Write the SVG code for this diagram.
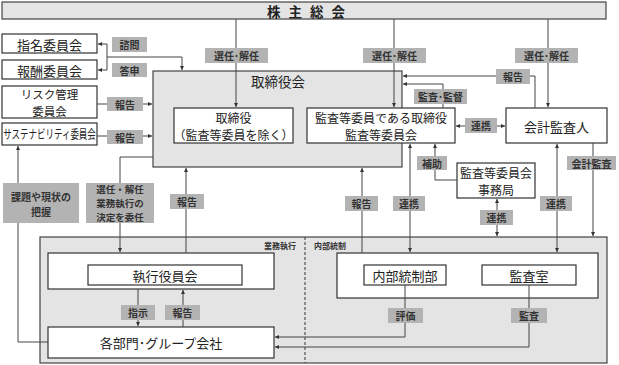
<svg xmlns="http://www.w3.org/2000/svg" width="619" height="365" viewBox="0 0 619 365">
<defs>
<style>
text{font-family:"Noto Sans CJK JP","Noto Sans",sans-serif;fill:#222;text-anchor:middle;dominant-baseline:central}
.box{fill:#fff;stroke:#333;stroke-width:1.2}
.area{fill:#e4e4e4;stroke:#444;stroke-width:1.2}
.t{font-size:13px}
.t2{font-size:12px}
.lb{fill:#b3b3b3}
.lt{font-size:10px;font-weight:bold;fill:#333}
.c{fill:none;stroke:#444;stroke-width:1}
.s{font-size:8px;font-weight:bold;fill:#333}
</style>
<marker id="a" markerWidth="5" markerHeight="5" refX="4" refY="2" orient="auto-start-reverse" markerUnits="userSpaceOnUse"><path d="M0,0 L4,2 L0,4z" fill="#333"/></marker>
</defs>
<rect width="619" height="365" fill="#fff"/>

<g id="shareholders">
<rect x="2" y="2" width="604" height="17" class="area"/>
<text x="310" y="11" style="font-size:13.5px;font-weight:bold" letter-spacing="8">株主総会</text>
</g>

<g id="board">
<rect x="153" y="71" width="249" height="96" class="area"/>
<text x="278" y="81" style="font-size:13.5px">取締役会</text>
</g>

<g id="exec-area">
<rect x="40" y="237" width="567" height="126" class="area"/>
<line x1="305" y1="237" x2="305" y2="363" stroke="#333" stroke-dasharray="3,2"/>
<text x="280" y="245" class="s">業務執行</text>
<text x="330" y="245" class="s">内部統制</text>
</g>

<g id="nomination"><rect x="2" y="34" width="95" height="19" class="box"/><text x="49.5" y="44" class="t">指名委員会</text></g>
<g id="remuneration"><rect x="2" y="60" width="95" height="19" class="box"/><text x="49.5" y="70" class="t">報酬委員会</text></g>
<g id="risk"><rect x="2" y="86" width="95" height="32" class="box"/><text style="font-size:11.5px"><tspan x="49.5" y="93.5">リスク管理</tspan><tspan x="49.5" y="110.5">委員会</tspan></text></g>
<g id="sustainability"><rect x="2" y="123" width="95" height="22" class="box"/><text transform="translate(49.5,134) scale(0.68,1)" x="0" y="0" style="font-size:12.5px">サステナビリティ委員会</text></g>

<g id="directors"><rect x="174" y="108" width="119" height="35" class="box"/><text class="t2"><tspan x="233.5" y="116.6">取締役</tspan><tspan x="233.5" y="134.4">（監査等委員を除く）</tspan></text></g>
<g id="audit-directors"><rect x="307" y="108" width="148" height="35" class="box"/><text class="t2"><tspan x="381" y="116.6">監査等委員である取締役</tspan><tspan x="381" y="134.4">監査等委員会</tspan></text></g>
<g id="accounting-auditor"><rect x="506" y="108" width="101" height="35" class="box"/><text x="556.5" y="126" class="t">会計監査人</text></g>
<g id="audit-office"><rect x="457" y="163" width="78" height="35" class="box"/><text class="t2"><tspan x="496" y="171.6">監査等委員会</tspan><tspan x="496" y="189.4">事務局</tspan></text></g>

<g id="exec-outer"><rect x="48" y="253" width="226" height="36" class="box"/></g>
<g id="exec-committee"><rect x="88" y="265" width="154" height="20" class="box"/><text x="165" y="275" class="t">執行役員会</text></g>
<g id="departments"><rect x="48" y="327" width="226" height="31" class="box"/><text x="161" y="342" class="t">各部門･グループ会社</text></g>
<g id="ic-outer"><rect x="337" y="253" width="261" height="45" class="box"/></g>
<g id="internal-control"><rect x="364" y="265" width="82" height="20" class="box"/><text x="405" y="275" class="t">内部統制部</text></g>
<g id="audit-room"><rect x="482" y="265" width="94" height="20" class="box"/><text x="529" y="275" class="t">監査室</text></g>

<g id="connectors">
<path class="c" d="M236,19 V107" marker-end="url(#a)"/>
<path class="c" d="M394,19 V107" marker-end="url(#a)"/>
<path class="c" d="M548,19 V107" marker-end="url(#a)"/>
<path class="c" d="M107,44 V70"/>
<path class="c" d="M107,44 H98" marker-end="url(#a)"/>
<path class="c" d="M107,70 H98" marker-end="url(#a)"/>
<path class="c" d="M107,57 H182 V70" marker-end="url(#a)"/>
<path class="c" d="M97,104 H152" marker-end="url(#a)"/>
<path class="c" d="M97,136 H152" marker-end="url(#a)"/>
<path class="c" d="M535,108 V76 H403" marker-end="url(#a)"/>
<path class="c" d="M443,108 V84 H403" marker-end="url(#a)"/>
<path class="c" d="M456,126 H505" marker-start="url(#a)" marker-end="url(#a)"/>
<path class="c" d="M457,180 H435 V144" marker-end="url(#a)"/>
<path class="c" d="M497,199 V236" marker-start="url(#a)" marker-end="url(#a)"/>
<path class="c" d="M593,143 V236" marker-end="url(#a)"/>
<path class="c" d="M557,144 V252" marker-start="url(#a)" marker-end="url(#a)"/>
<path class="c" d="M410,144 V252" marker-start="url(#a)" marker-end="url(#a)"/>
<path class="c" d="M362,253 V168" marker-end="url(#a)"/>
<path class="c" d="M186,253 V168" marker-end="url(#a)"/>
<path class="c" d="M153,157 H120 V252" marker-end="url(#a)"/>
<path class="c" d="M48,342 H18 V146" marker-end="url(#a)"/>
<path class="c" d="M138,289 V326" marker-end="url(#a)"/>
<path class="c" d="M183,327 V290" marker-end="url(#a)"/>
<path class="c" d="M405,285 V337 H275" marker-end="url(#a)"/>
<path class="c" d="M529,285 V347 H275" marker-end="url(#a)"/>
</g>

<g id="labels">
<rect x="205" y="48" width="63" height="15" class="lb"/><text x="236.5" y="55.5" class="lt">選任･解任</text>
<rect x="363" y="48" width="63" height="15" class="lb"/><text x="394.5" y="55.5" class="lt">選任･解任</text>
<rect x="515" y="48" width="63" height="15" class="lb"/><text x="546.5" y="55.5" class="lt">選任･解任</text>
<rect x="112" y="37" width="35" height="15" class="lb"/><text x="129.5" y="44.5" class="lt">諮問</text>
<rect x="112" y="63" width="35" height="14" class="lb"/><text x="129.5" y="70" class="lt">答申</text>
<rect x="107" y="97" width="36" height="14" class="lb"/><text x="125" y="104" class="lt">報告</text>
<rect x="107" y="130" width="36" height="14" class="lb"/><text x="125" y="137" class="lt">報告</text>
<rect x="496" y="69" width="34" height="15" class="lb"/><text x="513" y="76.5" class="lt">報告</text>
<rect x="414" y="89" width="53" height="15" class="lb"/><text x="440.5" y="96.5" class="lt">監査･監督</text>
<rect x="465" y="118" width="32" height="15" class="lb"/><text x="481" y="125.5" class="lt">連携</text>
<rect x="417" y="156" width="30" height="14" class="lb"/><text x="432" y="163" class="lt">補助</text>
<rect x="567" y="156" width="49" height="14" class="lb"/><text x="591.5" y="163" class="lt">会計監査</text>
<rect x="3" y="183" width="76" height="40" class="lb"/><text class="lt"><tspan x="41" y="195.5">課題や現状の</tspan><tspan x="41" y="210.5">把握</tspan></text>
<rect x="86" y="183" width="68" height="40" class="lb"/><text class="lt" style="font-size:9.5px"><tspan x="120" y="189.1">選任・解任</tspan><tspan x="120" y="203">業務執行の</tspan><tspan x="120" y="216.9">決定を委任</tspan></text>
<rect x="170" y="194" width="34" height="15" class="lb"/><text x="187" y="201.5" class="lt">報告</text>
<rect x="345" y="196" width="33" height="15" class="lb"/><text x="361.5" y="203.5" class="lt">報告</text>
<rect x="393" y="196" width="32" height="15" class="lb"/><text x="409" y="203.5" class="lt">連携</text>
<rect x="540" y="196" width="32" height="15" class="lb"/><text x="556" y="203.5" class="lt">連携</text>
<rect x="480" y="210" width="33" height="15" class="lb"/><text x="496.5" y="217.5" class="lt">連携</text>
<rect x="121" y="305" width="34" height="15" class="lb"/><text x="138" y="312.5" class="lt">指示</text>
<rect x="165" y="305" width="35" height="15" class="lb"/><text x="182.5" y="312.5" class="lt">報告</text>
<rect x="388" y="308" width="35" height="15" class="lb"/><text x="405.5" y="315.5" class="lt">評価</text>
<rect x="511" y="308" width="36" height="15" class="lb"/><text x="529" y="315.5" class="lt">監査</text>
</g>
</svg>
